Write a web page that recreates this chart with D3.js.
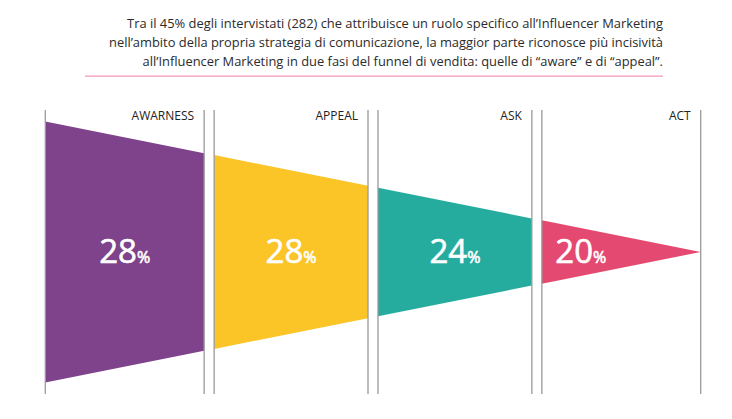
<!DOCTYPE html>
<html>
<head>
<meta charset="utf-8">
<script src="https://cdn.jsdelivr.net/npm/d3@7/dist/d3.min.js"></script>
<style>
  html, body { margin: 0; padding: 0; background: #fff; }
  svg { display: block; }
  text { font-family: "Open Sans", "Noto Sans", sans-serif; }
</style>
</head>
<body>
<svg id="chart" width="732" height="419"></svg>
<script>
// ---- data ----
const stages = ["AWARNESS", "APPEAL", "ASK", "ACT"];
const values = [28, 28, 24, 20];
const colors = ["#7f438b", "#fbc427", "#26ac9f", "#e44a71"];
const titleLines = [
  "Tra il 45% degli intervistati (282) che attribuisce un ruolo specifico all\u2019Influencer Marketing",
  "nell\u2019ambito della propria strategia di comunicazione, la maggior parte riconosce più incisività",
  "all\u2019Influencer Marketing in due fasi del funnel di vendita: quelle di \u201caware\u201d e di \u201cappeal\u201d."
];

// ---- layout ----
const W = 732, H = 419;
const svg = d3.select("#chart");

const n = stages.length;
const x = d3.scaleLinear().domain([0, n]).range([45.3, 700.7]);
const gap = 10;
const edges = i => [
  i === 0 ? x(0) : x(i) + gap / 2,
  i === n - 1 ? x(n) : x(i + 1) - gap / 2
];
const cy = 252;
const half = d3.scaleLinear().domain([x(0), x(n)]).range([130.5, 0]);
const lineTop = 110, lineBottom = 394;

// title
const title = svg.append("g");
title.selectAll("text").data(titleLines).join("text")
  .attr("x", 663)
  .attr("y", (d, i) => 27.5 + i * 19)
  .attr("text-anchor", "end")
  .attr("font-size", 12.9)
  .attr("fill", "#2b2b2b")
  .text(d => d);
svg.append("rect")
  .attr("x", 85).attr("width", 663 - 85)
  .attr("y", 75.5).attr("height", 1.3)
  .attr("fill", "#f59bba");

const data = stages.map((s, i) => {
  const [x0, x1] = edges(i);
  return { stage: s, value: values[i], color: colors[i], i, x0, x1 };
});

// funnel segments
svg.append("g").selectAll("path").data(data).join("path")
  .attr("d", d => {
    const h0 = half(d.x0), h1 = half(d.x1);
    return d3.line()([[d.x0, cy - h0], [d.x1, cy - h1], [d.x1, cy + h1], [d.x0, cy + h0]]) + "Z";
  })
  .attr("fill", d => d.color);

// vertical lines
const vg = svg.append("g");
data.forEach(d => {
  [d.x0, d.x1].forEach(xx => {
    vg.append("line")
      .attr("x1", xx).attr("x2", xx)
      .attr("y1", lineTop).attr("y2", lineBottom)
      .attr("stroke", "#9a9a9a").attr("stroke-width", 1.3);
  });
});

// stage labels
svg.append("g").selectAll("text").data(data).join("text")
  .attr("x", d => d.x1 - 10)
  .attr("y", 120)
  .attr("text-anchor", "end")
  .attr("font-size", 12)
  .attr("fill", "#222")
  .text(d => d.stage);

// value labels
const vl = svg.append("g").selectAll("text").data(data).join("text")
  .attr("x", d => d.i === n - 1 ? d.x0 + 13.5 : (d.x0 + d.x1) / 2)
  .attr("y", 262.5)
  .attr("text-anchor", d => d.i === n - 1 ? "start" : "middle")
  .attr("fill", "#fff")
  .attr("stroke", "#fff")
  .attr("stroke-width", 0.6);
vl.append("tspan").attr("font-size", 33).text(d => d.value);
vl.append("tspan").attr("font-size", 16).text("%");
</script>
</body>
</html>
